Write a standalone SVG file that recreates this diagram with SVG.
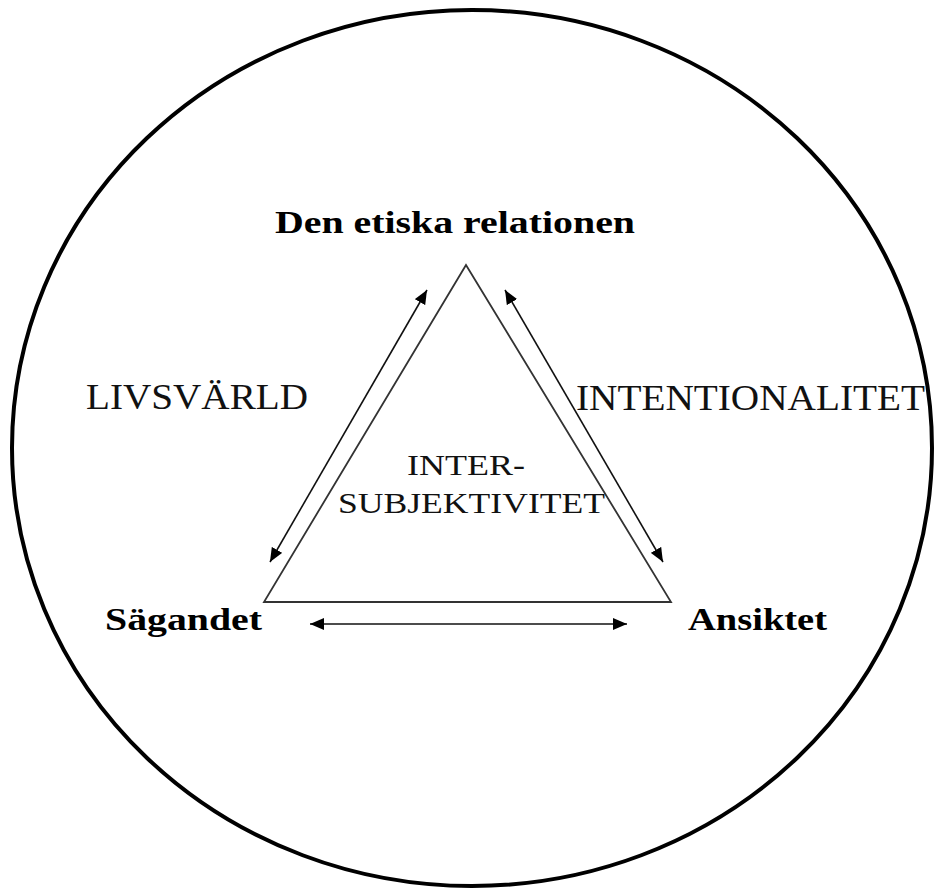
<svg xmlns="http://www.w3.org/2000/svg" width="937" height="892" viewBox="0 0 937 892">
<style>
.b{font-family:"Liberation Serif","Times New Roman",serif;font-weight:bold;font-size:32px;fill:#000}
.n{font-family:"Liberation Serif","Times New Roman",serif;font-size:36px;fill:#111}
.s{font-family:"Liberation Serif","Times New Roman",serif;font-size:30px;fill:#111}
.ln{stroke:#111;stroke-width:1.6;fill:none}
</style>
<defs>
<marker id="ah" viewBox="0 0 14 12" refX="14" refY="6" markerWidth="14" markerHeight="12" markerUnits="userSpaceOnUse" orient="auto-start-reverse">
<path d="M0,0 L14,6 L0,12 z" fill="#000"/>
</marker>
</defs>
<rect width="937" height="892" fill="#fff"/>
<ellipse id="world" cx="472" cy="448" rx="460" ry="438" fill="none" stroke="#000" stroke-width="4"/>
<g id="triangle">
<polygon points="466,265 264,602 671,602" fill="none" stroke="#333" stroke-width="1.8"/>
</g>
<g id="connectors">
<line class="ln" x1="270" y1="562" x2="427" y2="290" marker-start="url(#ah)" marker-end="url(#ah)"/>
<line class="ln" x1="505" y1="290" x2="663" y2="562" marker-start="url(#ah)" marker-end="url(#ah)"/>
<line class="ln" x1="310" y1="624" x2="627" y2="624" marker-start="url(#ah)" marker-end="url(#ah)"/>
</g>
<g id="node-relation"><text class="b" x="275" y="233" textLength="360" lengthAdjust="spacingAndGlyphs">Den etiska relationen</text></g>
<g id="node-sagandet"><text class="b" x="105" y="630" textLength="157" lengthAdjust="spacingAndGlyphs">Sägandet</text></g>
<g id="node-ansiktet"><text class="b" x="688" y="630" textLength="139" lengthAdjust="spacingAndGlyphs">Ansiktet</text></g>
<g id="label-livsvarld"><text class="n" x="86" y="409" textLength="222" lengthAdjust="spacingAndGlyphs">LIVSVÄRLD</text></g>
<g id="label-intentionalitet"><text class="n" x="576" y="410" textLength="349" lengthAdjust="spacingAndGlyphs">INTENTIONALITET</text></g>
<g id="label-inter">
<text class="s" x="407" y="475" textLength="118" lengthAdjust="spacingAndGlyphs">INTER-</text>
<text class="s" x="338" y="513" textLength="267" lengthAdjust="spacingAndGlyphs">SUBJEKTIVITET</text>
</g>
</svg>
